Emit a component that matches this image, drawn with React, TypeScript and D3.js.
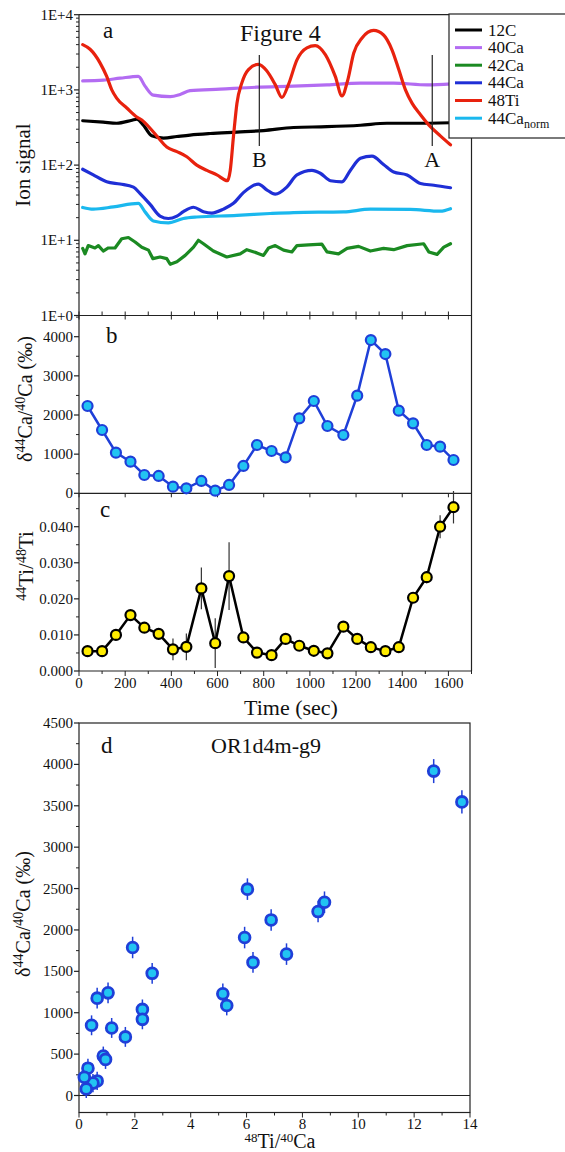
import React from 'react';
import * as d3 from 'd3';

// ---------- Panel a: ion signals (time sec, counts) ----------
const c12: [number, number][] = [[16,389],[105,372],[163,360],[230,395],[250,407],[279,339],[315,245],[366,229],[424,240],[481,251],[568,263],[684,275],[799,288],[929,316],[1074,324],[1219,339],[1334,360],[1450,360],[1609,366]];
const ca40: [number, number][] = [[16,1318],[105,1349],[178,1432],[257,1514],[286,1122],[322,851],[395,813],[438,871],[481,977],[611,1023],[770,1086],[929,1122],[1074,1167],[1219,1230],[1363,1230],[1508,1167],[1613,1202]];
const ca42: [number, number][] = [[16,7.8],[26,6.6],[40,8.5],[69,7.9],[84,8.5],[105,7.2],[127,7.9],[156,7.9],[185,10.5],[214,10.9],[243,9.5],[272,8.1],[301,7.4],[320,5.7],[351,6.0],[380,5.7],[395,4.8],[424,5.2],[460,6.3],[496,8.1],[517,10.0],[539,9.0],[582,7.2],[640,6.0],[698,6.6],[727,7.5],[770,6.8],[799,6.3],[821,7.9],[850,8.5],[886,7.4],[922,7.0],[944,8.5],[994,8.7],[1052,8.9],[1074,7.0],[1124,6.6],[1161,7.8],[1211,8.3],[1262,7.2],[1319,7.8],[1363,7.5],[1421,8.5],[1493,9.0],[1515,7.0],[1551,6.5],[1580,8.1],[1609,9.0]];
const ca44: [number, number][] = [[16,88],[62,74],[120,60],[178,56],[236,51],[264,42],[308,30],[351,21],[387,19.5],[424,21],[452,24],[496,27.5],[539,24],[575,23],[626,26],[669,31],[712,43],[777,56],[813,47],[850,41],[900,51],[944,74],[1009,85],[1045,78],[1089,62],[1139,60],[1175,85],[1219,123],[1269,132],[1319,102],[1363,81],[1421,74],[1479,57],[1537,54],[1609,50]];
const ti48: [number, number][] = [[16,4000],[48,3470],[91,2290],[120,1510],[142,1000],[163,776],[207,575],[250,437],[272,398],[308,309],[344,229],[380,174],[424,151],[467,129],[510,100],[554,85],[597,74],[643,62],[655,85],[669,240],[684,661],[705,1230],[734,1862],[777,2190],[813,1800],[850,1175],[879,794],[907,1175],[944,2512],[987,3630],[1023,3890],[1067,2950],[1110,1510],[1139,832],[1164,1350],[1190,3090],[1226,4900],[1276,6170],[1319,5370],[1356,3390],[1385,1862],[1414,1000],[1443,661],[1479,468],[1522,324],[1565,245],[1609,186]];
const ca44norm: [number, number][] = [[16,27.3],[62,25.9],[149,27.8],[257,30.9],[286,23.9],[322,18.1],[387,17.0],[452,19.5],[510,20.4],[684,21.4],[828,22.7],[929,23.4],[1146,23.9],[1262,25.9],[1435,25.7],[1565,24.4],[1609,26.3]];

const legendNames = ['12C', '40Ca', '42Ca', '44Ca', '48Ti', '44Ca'];
const legendColors = ['#000000', '#b36cf2', '#1b8a22', '#1f2fd6', '#e8220e', '#1ab8ee'];
const logTickLabels = ['1E+0', '1E+1', '1E+2', '1E+3', '1E+4'];
const markerTimes = [781, 1530];
const markerLabels = ['B', 'A'];

// ---------- Panels b, c: per-cycle values ----------
const cycleTimes = [37,100,160,223,283,345,407,465,530,590,650,712,771,834,895,954,1017,1076,1145,1205,1264,1327,1385,1447,1506,1564,1622];
const deltaB = [2230,1617,1038,809,468,443,170,128,315,68,213,698,1234,1081,919,1915,2357,1719,1489,2494,3915,3557,2111,1787,1234,1191,851];
const ratioC = [0.0055,0.0055,0.0100,0.0155,0.0120,0.0103,0.0060,0.0067,0.0229,0.0077,0.0263,0.0093,0.0051,0.0044,0.0089,0.0070,0.0056,0.0049,0.0123,0.0089,0.0066,0.0055,0.0066,0.0203,0.0260,0.0400,0.0454];
const errC = [0.0008,0.0008,0.0010,0.0010,0.0012,0.0015,0.0030,0.0037,0.0058,0.0069,0.0094,0.0010,0.0008,0.0008,0.0010,0.0008,0.0008,0.0008,0.0010,0.0010,0.0008,0.0008,0.0008,0.0010,0.0017,0.0032,0.0045];

// ---------- Panel d ----------
const ratioD = [8.56,6.23,2.27,1.17,0.87,0.95,0.65,0.50,0.32,0.26,0.19,1.66,5.15,5.29,2.27,5.93,8.79,7.43,2.62,6.03,12.7,13.71,6.88,1.92,1.04,0.65,0.45];
const deltaD = [2222,1608,1040,816,476,436,176,150,330,80,220,708,1228,1088,920,1908,2335,1708,1476,2493,3919,3547,2121,1788,1240,1176,848];
const errD = [130,125,120,120,115,115,110,110,115,110,115,120,125,120,120,130,130,130,125,130,145,140,130,130,125,125,120];

const FONT = '"Liberation Serif", "Times New Roman", serif';

export default function App() {
  const L = 79, R = 471.5;
  const xT = d3.scaleLinear().domain([0, 1700]).range([L, R]);
  const yA = d3.scaleLog().domain([1, 1e4]).range([315.5, 14.7]);
  const yB = d3.scaleLinear().domain([0, 4000]).range([493.3, 336.7]);
  const yC = d3.scaleLinear().domain([0, 0.04]).range([671, 526.7]);
  const xD = d3.scaleLinear().domain([0, 14]).range([79, 470]);
  const yD = d3.scaleLinear().domain([0, 4500]).range([1095.5, 723]);

  const aTop = yA(1e4), aBot = yA(1);
  const bBot = yB(0);
  const cBot = yC(0);
  const dTop = yD(4500), dBot = 1112.5, dR = xD(14);

  const lineA = d3.line<[number, number]>().x(d => xT(d[0])).y(d => yA(d[1])).curve(d3.curveMonotoneX);
  const lineAlin = d3.line<[number, number]>().x(d => xT(d[0])).y(d => yA(d[1]));
  const lineB = d3.line<number>().x((_, i) => xT(cycleTimes[i])).y(d => yB(d));
  const lineC = d3.line<number>().x((_, i) => xT(cycleTimes[i])).y(d => yC(d));

  const series: [string, [number, number][], boolean][] = [
    ['#1b8a22', ca42, false],
    ['#1ab8ee', ca44norm, true],
    ['#1f2fd6', ca44, true],
    ['#b36cf2', ca40, true],
    ['#000000', c12, true],
    ['#e8220e', ti48, true],
  ];

  const minorLog: number[] = [];
  for (let d = 0; d < 4; d++) for (let k = 2; k <= 9; k++) minorLog.push(k * Math.pow(10, d));
  const t100 = d3.range(0, 1701, 100);
  const t200 = d3.range(0, 1601, 200);

  const legX = 449, legY = 14;
  const legRowY = [30, 47.6, 65.2, 82.8, 100.5, 118.2];

  const tickText = { fontFamily: FONT, fontSize: 15, fill: '#111' } as const;

  return (
    <svg width={565} height={1152} style={{ position: 'absolute', left: 0, top: 0, background: '#fff' }} fontFamily={FONT}>
      <rect x={0} y={0} width={565} height={1152} fill="#fff" />
      <defs>
        <clipPath id="clipA"><rect x={L} y={aTop} width={R - L} height={aBot - aTop} /></clipPath>
      </defs>

      {/* ---------------- Panel a ---------------- */}
      <g clipPath="url(#clipA)">
        {series.map(([col, data, smooth], i) => (
          <path key={i} d={(smooth ? lineA : lineAlin)(data) || ''} fill="none" stroke={col} strokeWidth={3.2} strokeLinejoin="round" strokeLinecap="round" />
        ))}
      </g>
      <line x1={L} y1={aTop} x2={L} y2={aBot} stroke="#222" strokeWidth={1.2} />
      <line x1={L} y1={aTop} x2={legX} y2={aTop} stroke="#222" strokeWidth={1.2} />
      <line x1={R} y1={138} x2={R} y2={cBot} stroke="#222" strokeWidth={1.2} />
      <line x1={L} y1={aBot} x2={R} y2={aBot} stroke="#222" strokeWidth={1.2} />
      {[1, 10, 100, 1000, 10000].map((v, i) => (
        <g key={v}>
          <line x1={L - 5} x2={L} y1={yA(v)} y2={yA(v)} stroke="#222" strokeWidth={1.2} />
          <text x={L - 6} y={yA(v) + 5} textAnchor="end" {...tickText}>{logTickLabels[i]}</text>
        </g>
      ))}
      {minorLog.map(v => <line key={v} x1={L - 3} x2={L} y1={yA(v)} y2={yA(v)} stroke="#222" strokeWidth={1} />)}
      {t100.map(t => <line key={'a' + t} x1={xT(t)} x2={xT(t)} y1={aBot} y2={aBot - 4} stroke="#222" strokeWidth={1} />)}

      {markerTimes.map((t, i) => (
        <g key={i}>
          <line x1={xT(t)} x2={xT(t)} y1={55} y2={146} stroke="#222" strokeWidth={1.2} />
          <text x={xT(t)} y={167} textAnchor="middle" fontSize={22} fill="#111">{markerLabels[i]}</text>
        </g>
      ))}
      <text x={103} y={38} fontSize={23} fill="#111">a</text>
      <text x={240} y={41} fontSize={24} fill="#111">Figure 4</text>

      <rect x={legX} y={legY} width={140} height={124} fill="#fff" stroke="#222" strokeWidth={1.2} />
      {legendNames.map((n, i) => (
        <g key={i}>
          <line x1={455} x2={482} y1={legRowY[i]} y2={legRowY[i]} stroke={legendColors[i]} strokeWidth={3} />
          <text x={488} y={legRowY[i] + 5.5} fontSize={17} fill="#111">
            {n}{i === 5 ? <tspan fontSize={12} dy={4}>norm</tspan> : null}
          </text>
        </g>
      ))}

      <text transform={`translate(30,165) rotate(-90)`} textAnchor="middle" fontSize={21} fill="#111">Ion signal</text>

      {/* ---------------- Panel b ---------------- */}
      <line x1={L} y1={aBot} x2={L} y2={cBot} stroke="#222" strokeWidth={1.2} />
      <line x1={L} y1={bBot} x2={R} y2={bBot} stroke="#222" strokeWidth={1.2} />
      {t200.map(t => <line key={'b' + t} x1={xT(t)} x2={xT(t)} y1={aBot} y2={aBot + 4} stroke="#222" strokeWidth={1} />)}
      {t200.map(t => <line key={'bb' + t} x1={xT(t)} x2={xT(t)} y1={bBot} y2={bBot + 4} stroke="#222" strokeWidth={1} />)}
      {d3.range(0, 4001, 1000).map(v => (
        <g key={v}>
          <line x1={L - 5} x2={L} y1={yB(v)} y2={yB(v)} stroke="#222" strokeWidth={1.2} />
          <text x={L - 6} y={yB(v) + 5} textAnchor="end" {...tickText}>{v}</text>
        </g>
      ))}
      {d3.range(500, 4501, 1000).map(v => <line key={v} x1={L - 3} x2={L} y1={yB(v)} y2={yB(v)} stroke="#222" strokeWidth={1} />)}
      <path d={lineB(deltaB) || ''} fill="none" stroke="#1f3fd8" strokeWidth={2.5} />
      {deltaB.map((v, i) => (
        <circle key={i} cx={xT(cycleTimes[i])} cy={yB(v)} r={5} fill="#22c4f2" stroke="#1f3fd8" strokeWidth={2.2} />
      ))}
      <text x={106} y={343} fontSize={23} fill="#111">b</text>
      <text transform={`translate(32,399) rotate(-90)`} textAnchor="middle" fontSize={20} fill="#111">
        δ<tspan fontSize={14} dy={-7}>44</tspan><tspan dy={7}>Ca/</tspan><tspan fontSize={14} dy={-7}>40</tspan><tspan dy={7}>Ca (‰)</tspan>
      </text>

      {/* ---------------- Panel c ---------------- */}
      <line x1={L} y1={cBot} x2={R} y2={cBot} stroke="#222" strokeWidth={1.2} />
      {d3.range(0, 0.0401, 0.01).map(v => (
        <g key={v}>
          <line x1={L - 5} x2={L} y1={yC(v)} y2={yC(v)} stroke="#222" strokeWidth={1.2} />
          <text x={L - 6} y={yC(v) + 5} textAnchor="end" {...tickText}>{v.toFixed(3)}</text>
        </g>
      ))}
      {d3.range(0.005, 0.0451, 0.01).map(v => <line key={v} x1={L - 3} x2={L} y1={yC(v)} y2={yC(v)} stroke="#222" strokeWidth={1} />)}
      {t100.map(t => <line key={'c' + t} x1={xT(t)} x2={xT(t)} y1={cBot} y2={cBot + (t % 200 === 0 ? 5 : 3)} stroke="#222" strokeWidth={1} />)}
      {t200.map(t => <text key={'cl' + t} x={xT(t)} y={688} textAnchor="middle" {...tickText}>{t}</text>)}
      {ratioC.map((v, i) => (
        <line key={i} x1={xT(cycleTimes[i])} x2={xT(cycleTimes[i])} y1={yC(v - errC[i])} y2={yC(v + errC[i])} stroke="#333" strokeWidth={1.2} />
      ))}
      <path d={lineC(ratioC) || ''} fill="none" stroke="#000" strokeWidth={2.5} />
      {ratioC.map((v, i) => (
        <circle key={i} cx={xT(cycleTimes[i])} cy={yC(v)} r={5} fill="#ffec00" stroke="#000" strokeWidth={2.2} />
      ))}
      <text x={100} y={517} fontSize={23} fill="#111">c</text>
      <text transform={`translate(33,566) rotate(-90)`} textAnchor="middle" fontSize={21} fill="#111">
        <tspan fontSize={14} dy={-7}>44</tspan><tspan dy={7}>Ti/</tspan><tspan fontSize={14} dy={-7}>48</tspan><tspan dy={7}>Ti</tspan>
      </text>
      <text x={291} y={715} textAnchor="middle" fontSize={22} fill="#111">Time (sec)</text>

      {/* ---------------- Panel d ---------------- */}
      <rect x={xD(0)} y={dTop} width={dR - xD(0)} height={dBot - dTop} fill="none" stroke="#222" strokeWidth={1.2} />
      <line x1={xD(0)} x2={dR} y1={yD(0)} y2={yD(0)} stroke="#222" strokeWidth={1.2} />
      {d3.range(0, 4501, 500).map(v => (
        <g key={v}>
          <line x1={xD(0) - 5} x2={xD(0)} y1={yD(v)} y2={yD(v)} stroke="#222" strokeWidth={1.2} />
          <text x={xD(0) - 6} y={yD(v) + 5} textAnchor="end" {...tickText}>{v}</text>
        </g>
      ))}
      {d3.range(250, 4500, 500).map(v => <line key={v} x1={xD(0) - 3} x2={xD(0)} y1={yD(v)} y2={yD(v)} stroke="#222" strokeWidth={1} />)}
      {d3.range(0, 15, 1).map(v => (
        <g key={v}>
          <line x1={xD(v)} x2={xD(v)} y1={dBot} y2={dBot + (v % 2 === 0 ? 5 : 3)} stroke="#222" strokeWidth={1} />
          {v % 2 === 0 ? <text x={xD(v)} y={1129} textAnchor="middle" {...tickText}>{v}</text> : null}
        </g>
      ))}
      {ratioD.map((v, i) => (
        <line key={i} x1={xD(v)} x2={xD(v)} y1={yD(deltaD[i] - errD[i])} y2={yD(deltaD[i] + errD[i])} stroke="#1f3fd8" strokeWidth={1.5} />
      ))}
      {ratioD.map((v, i) => (
        <circle key={i} cx={xD(v)} cy={yD(deltaD[i])} r={5.4} fill="#22c4f2" stroke="#1f3fd8" strokeWidth={2.8} />
      ))}
      <text x={101} y={753} fontSize={23} fill="#111">d</text>
      <text x={211} y={753} fontSize={22} fill="#111">OR1d4m-g9</text>
      <text transform={`translate(30,914) rotate(-90)`} textAnchor="middle" fontSize={20} fill="#111">
        δ<tspan fontSize={14} dy={-7}>44</tspan><tspan dy={7}>Ca/</tspan><tspan fontSize={14} dy={-7}>40</tspan><tspan dy={7}>Ca (‰)</tspan>
      </text>
      <text x={280} y={1148} textAnchor="middle" fontSize={20} fill="#111">
        <tspan fontSize={13} dy={-6}>48</tspan><tspan dy={6}>Ti/</tspan><tspan fontSize={13} dy={-6}>40</tspan><tspan dy={6}>Ca</tspan>
      </text>
    </svg>
  );
}
